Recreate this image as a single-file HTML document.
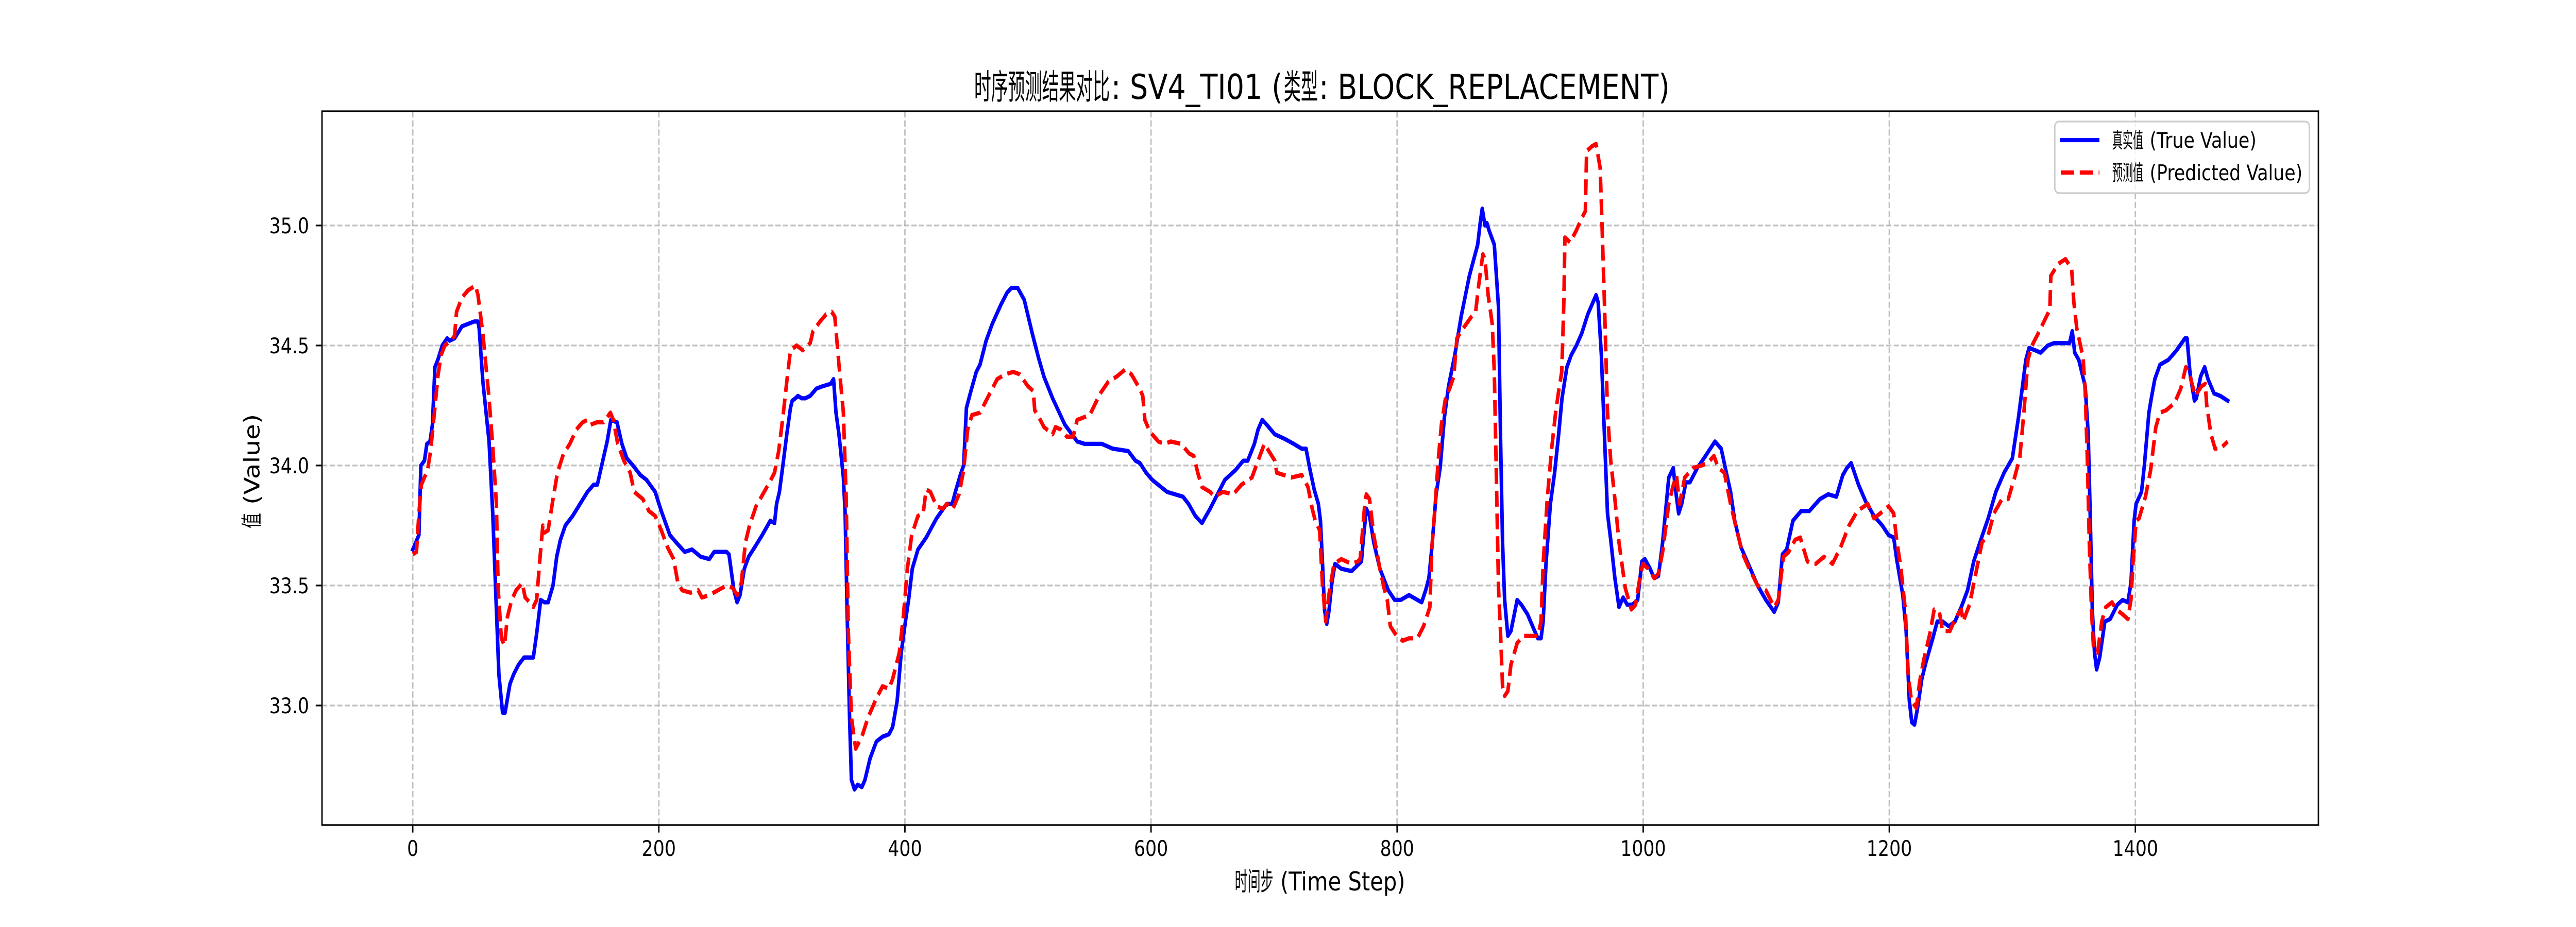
<!DOCTYPE html>
<html><head><meta charset="utf-8"><style>
html,body{margin:0;padding:0;background:#fff;overflow:hidden;width:100vw;height:100vh}
svg{display:block;width:100vw;height:100vh}
text{font-family:"DejaVu Sans","Liberation Sans","Noto Sans CJK SC",sans-serif;fill:#000;white-space:pre}
.cjk{font-family:"Noto Sans CJK SC","WenQuanYi Zen Hei",sans-serif}
</style></head><body>
<svg id="chart" viewBox="0 0 6000 1800" preserveAspectRatio="none" xmlns="http://www.w3.org/2000/svg" xml:space="preserve">
<rect x="0" y="0" width="6000" height="1800" fill="#fff"/>
<g id="grid"></g>
<g id="plot"></g>
<rect x="750" y="216" width="4650" height="1386" fill="none" stroke="#000" stroke-width="3.3"/>
<g id="ticks"></g>
<g>
<text class="cjk" x="2269" y="192" font-size="66.7" textLength="316" lengthAdjust="spacingAndGlyphs">时序预测结果对比</text>
<text x="2588" y="192" font-size="66.7">: SV4_TI01 (</text>
<text class="cjk" x="2990" y="192" font-size="66.7" textLength="80" lengthAdjust="spacingAndGlyphs">类型</text>
<text x="3072" y="192" font-size="66.7">: BLOCK_REPLACEMENT)</text>
</g>
<g>
<text class="cjk" x="2876" y="1729" font-size="50" textLength="90" lengthAdjust="spacingAndGlyphs">时间步</text>
<text x="2982" y="1729" font-size="50">(Time Step)</text>
</g>
<g transform="translate(604,1026) rotate(-90)">
<text class="cjk" x="0" y="0" font-size="50" textLength="30" lengthAdjust="spacingAndGlyphs">值</text>
<text x="46" y="0" font-size="50">(Value)</text>
</g>
<g>
<rect x="4786" y="236" width="593" height="139" rx="10" fill="#fff" fill-opacity="0.8" stroke="#cccccc" stroke-width="3.3"/>
<g>
<line x1="4798" y1="272" x2="4890" y2="272" stroke="#0000ff" stroke-width="8.3"/>
<text class="cjk" x="4920" y="287" font-size="41.7" textLength="72" lengthAdjust="spacingAndGlyphs">真实值</text>
<text x="5007" y="287" font-size="41.7">(True Value)</text>
</g>
<g>
<line x1="4800" y1="335" x2="4890" y2="335" stroke="#ff0000" stroke-width="8.3" stroke-dasharray="30.8 13.3"/>
<text class="cjk" x="4920" y="350" font-size="41.7" textLength="72" lengthAdjust="spacingAndGlyphs">预测值</text>
<text x="5007" y="350" font-size="41.7">(Predicted Value)</text>
</g>
</g>
</svg>
<script>
const xTicks = [0, 200, 400, 600, 800, 1000, 1200, 1400];
const yTicks = [33.0, 33.5, 34.0, 34.5, 35.0];
const yTickLabels = ["33.0", "33.5", "34.0", "34.5", "35.0"];
const trueSeries = [[0,33.65],[5,33.71],[6.6,34.0],[9.5,34.02],[11.5,34.09],[14,34.1],[16,34.17],[18,34.41],[20.4,34.44],[24,34.5],[28,34.53],[30,34.52],[34,34.53],[40,34.58],[45,34.59],[50,34.6],[53,34.6],[54,34.57],[57,34.35],[62,34.1],[65,33.8],[68,33.4],[70,33.13],[73,32.97],[75,32.97],[79,33.09],[82,33.13],[86,33.17],[90.5,33.2],[98,33.2],[100.7,33.3],[104,33.44],[107,33.43],[110,33.43],[114,33.5],[117,33.62],[120,33.69],[124,33.75],[130,33.79],[136,33.84],[142,33.89],[147,33.92],[150,33.92],[154,34.01],[158,34.1],[161,34.19],[166,34.18],[170,34.09],[174,34.03],[179,34.0],[185,33.96],[190,33.94],[197,33.89],[202,33.81],[209,33.71],[214,33.68],[221,33.64],[227,33.65],[234,33.62],[241,33.61],[245,33.64],[250,33.64],[255,33.64],[257,33.63],[261,33.48],[263.6,33.43],[266,33.46],[269.5,33.57],[273,33.62],[278,33.66],[284,33.71],[290.6,33.77],[294,33.76],[295.7,33.84],[298,33.89],[300.8,34.0],[304,34.13],[307,34.24],[308.4,34.27],[311,34.28],[313,34.29],[316,34.28],[319,34.28],[323,34.29],[328,34.32],[333,34.33],[339.6,34.34],[342,34.36],[344,34.22],[346.4,34.13],[350,33.95],[351.4,33.8],[353,33.4],[355,32.95],[356.5,32.69],[359,32.65],[361.6,32.67],[365,32.66],[367.5,32.69],[371.7,32.78],[376.8,32.85],[381.8,32.87],[387,32.88],[390,32.91],[393.7,33.02],[397,33.22],[400.4,33.35],[403,33.44],[406,33.57],[410.6,33.65],[417.3,33.7],[425.7,33.78],[434,33.84],[438.4,33.84],[441,33.89],[445,33.96],[447.7,34.0],[450,34.24],[453.6,34.31],[458,34.39],[461,34.42],[466,34.52],[471,34.59],[478,34.67],[483,34.72],[486.6,34.74],[491.6,34.74],[497,34.69],[503.5,34.55],[508.5,34.45],[513,34.37],[520,34.28],[530,34.17],[540,34.1],[546,34.09],[552,34.09],[560,34.09],[569,34.07],[581.5,34.06],[587.4,34.02],[591,34.01],[596,33.97],[601,33.94],[613,33.89],[626,33.87],[630.5,33.84],[636,33.79],[641.4,33.76],[648,33.82],[655,33.89],[660,33.94],[668.5,33.98],[675,34.02],[678.6,34.02],[684,34.09],[687,34.15],[690.4,34.19],[694,34.17],[700.6,34.13],[709,34.11],[716,34.09],[722.5,34.07],[726,34.07],[729.3,33.98],[732.6,33.9],[736,33.84],[737.7,33.77],[739.4,33.59],[741,33.4],[742.8,33.34],[744.5,33.39],[747,33.51],[749.5,33.59],[754.6,33.57],[763,33.56],[771,33.6],[772.5,33.69],[775,33.82],[777.6,33.79],[781,33.68],[786,33.57],[792.8,33.48],[798,33.44],[803,33.44],[809.7,33.46],[816.5,33.44],[820,33.43],[823.2,33.48],[825.8,33.53],[828.3,33.66],[831.7,33.88],[835,33.99],[838.4,34.2],[841.8,34.33],[846.9,34.46],[852,34.62],[858.7,34.79],[865.5,34.92],[867.5,35.01],[869.2,35.07],[871.4,35.0],[873,35.01],[874.7,34.98],[879,34.92],[882.4,34.66],[884,34.13],[885.7,33.68],[887.4,33.44],[890,33.29],[892.5,33.31],[897.6,33.44],[901,33.42],[906,33.38],[911,33.32],[914.4,33.28],[917,33.28],[918.7,33.35],[921,33.59],[924.6,33.84],[928,33.97],[931.3,34.13],[934,34.28],[938,34.41],[941.5,34.46],[945.7,34.5],[950,34.55],[955,34.63],[961.7,34.71],[963.4,34.68],[966,34.46],[968.5,34.13],[971,33.8],[973.6,33.69],[977,33.53],[980.3,33.41],[983.7,33.45],[987,33.42],[991.3,33.42],[995.5,33.44],[998.9,33.6],[1001.4,33.61],[1005.6,33.57],[1009,33.53],[1012.4,33.54],[1015.8,33.68],[1020.8,33.95],[1024.5,33.99],[1026,33.91],[1028.8,33.8],[1031.3,33.84],[1034.7,33.93],[1038,33.93],[1044,33.99],[1050.7,34.04],[1058.3,34.1],[1063.4,34.07],[1067.6,33.97],[1071,33.89],[1074.4,33.77],[1079.4,33.66],[1086.2,33.58],[1093,33.5],[1099.7,33.44],[1106.5,33.39],[1109.8,33.43],[1113.2,33.63],[1116.6,33.65],[1121.7,33.77],[1125,33.79],[1128.4,33.81],[1135,33.81],[1143.6,33.86],[1150.4,33.88],[1157,33.87],[1162.2,33.96],[1165.6,33.99],[1169,34.01],[1175,33.92],[1180.8,33.85],[1187.5,33.79],[1194.3,33.75],[1199.4,33.71],[1203.6,33.7],[1206,33.61],[1211,33.46],[1213.7,33.31],[1216.3,33.02],[1218.3,32.93],[1220.5,32.92],[1223,32.99],[1226.4,33.11],[1229.8,33.18],[1234.8,33.27],[1239,33.35],[1243.3,33.35],[1248.4,33.33],[1253.4,33.35],[1258.5,33.41],[1263.6,33.48],[1268.6,33.6],[1273.7,33.68],[1280.4,33.78],[1286.6,33.89],[1293.3,33.97],[1300,34.03],[1305,34.2],[1311,34.44],[1313.6,34.49],[1318.6,34.48],[1323,34.47],[1328.8,34.5],[1333.9,34.51],[1344,34.51],[1346.5,34.51],[1348.7,34.56],[1350.7,34.47],[1354,34.44],[1359.2,34.33],[1361.7,34.13],[1363.4,33.77],[1365,33.4],[1366.8,33.22],[1368.5,33.15],[1371,33.2],[1375.2,33.35],[1379.5,33.36],[1385.4,33.42],[1389.6,33.44],[1393.9,33.43],[1396.4,33.51],[1399,33.77],[1400.6,33.84],[1405,33.89],[1407.3,34.0],[1411,34.22],[1413.3,34.29],[1415.8,34.36],[1420,34.42],[1426.8,34.44],[1433.5,34.48],[1440.3,34.53],[1442,34.53],[1444.5,34.38],[1448,34.27],[1449.6,34.28],[1453,34.37],[1456.3,34.41],[1459,34.36],[1464,34.3],[1469,34.29],[1475,34.27]];
const predSeries = [[0,33.63],[3,33.64],[5,33.8],[7,33.92],[9.5,33.95],[12,33.98],[14.5,34.06],[18,34.24],[20.4,34.37],[23,34.46],[26,34.5],[31,34.52],[34,34.54],[35.6,34.64],[40,34.70],[45,34.73],[51,34.75],[53,34.71],[57,34.55],[62,34.28],[65,34.08],[68,33.84],[69.4,33.49],[72,33.28],[74.5,33.25],[77,33.37],[80.4,33.44],[84,33.48],[89,33.51],[91.4,33.45],[95,33.43],[98,33.41],[100.7,33.44],[103,33.59],[105.7,33.75],[107,33.72],[110,33.73],[114,33.86],[117.6,33.97],[122.6,34.05],[127.7,34.09],[133,34.15],[138,34.18],[142,34.19],[144.6,34.17],[149.7,34.18],[155,34.18],[158,34.2],[160.6,34.22],[163,34.19],[166.6,34.09],[171.6,34.02],[176.7,33.97],[180,33.89],[187,33.86],[192,33.81],[197,33.79],[202,33.73],[207,33.66],[212,33.61],[215.5,33.51],[219,33.48],[225.7,33.47],[232,33.48],[235,33.45],[241,33.46],[248,33.48],[255,33.5],[260,33.49],[263.6,33.46],[267,33.51],[270.4,33.68],[273.7,33.75],[279,33.83],[285.6,33.89],[290,33.93],[294,33.97],[297.4,34.06],[300.8,34.2],[304,34.35],[307,34.48],[312,34.5],[317,34.48],[323,34.51],[325.3,34.56],[331,34.6],[336,34.63],[340.5,34.64],[343,34.62],[346.4,34.42],[350,34.22],[352.3,33.86],[354,33.31],[356.5,32.95],[360,32.82],[365,32.87],[370,32.95],[376.8,33.03],[381.8,33.08],[387,33.07],[390,33.11],[395.4,33.22],[398.7,33.37],[402,33.57],[405.5,33.71],[410.6,33.79],[414.8,33.8],[417.3,33.9],[420.7,33.89],[425.7,33.83],[430.8,33.82],[434,33.84],[439,33.82],[444,33.88],[447.7,33.98],[451,34.15],[454.5,34.21],[461,34.22],[468,34.29],[475,34.36],[481.5,34.38],[488,34.39],[493.3,34.38],[500,34.33],[504.3,34.31],[505.5,34.23],[510,34.19],[513,34.16],[520,34.13],[522.4,34.16],[526.6,34.15],[531.6,34.12],[536.7,34.12],[540,34.19],[550.2,34.21],[558.7,34.3],[565.4,34.35],[572,34.37],[579,34.4],[584,34.38],[590.8,34.32],[593.3,34.29],[595,34.19],[599.2,34.14],[606,34.1],[611,34.09],[616,34.1],[624.5,34.09],[631,34.05],[634.7,34.04],[638,33.97],[641.4,33.91],[648,33.89],[651.6,33.87],[658.3,33.89],[666.8,33.88],[673.5,33.92],[682,33.95],[687,34.02],[692.1,34.09],[697,34.05],[700.6,34.02],[702.2,33.97],[714,33.95],[722.5,33.96],[727.6,33.91],[731,33.82],[733.5,33.77],[737,33.73],[739.4,33.5],[742,33.35],[744.5,33.46],[748.7,33.59],[754.6,33.61],[763,33.59],[768,33.6],[770,33.61],[773.4,33.82],[775,33.88],[777.6,33.86],[781,33.71],[786,33.57],[789.4,33.49],[792,33.44],[794.5,33.33],[799.6,33.29],[804.6,33.27],[809.7,33.28],[816.5,33.28],[821.5,33.33],[826.6,33.41],[828.3,33.66],[831,33.84],[833.4,34.02],[836,34.17],[839.3,34.28],[842.7,34.32],[846,34.37],[848.6,34.53],[853.6,34.57],[860.4,34.62],[863.8,34.64],[866.3,34.75],[869.7,34.88],[871.4,34.86],[874,34.71],[877.3,34.59],[879,34.39],[880.7,33.95],[882.4,33.49],[884,33.31],[885.7,33.08],[887.4,33.04],[890,33.06],[892.5,33.17],[897.6,33.26],[902.6,33.29],[909.4,33.29],[914.4,33.29],[917,33.35],[918.7,33.59],[922,33.86],[925.4,34.06],[928.8,34.22],[931.3,34.31],[933.8,34.39],[935.5,34.68],[936.4,34.95],[940.6,34.93],[945.7,34.98],[950,35.03],[953,35.06],[954,35.31],[958.4,35.33],[961.7,35.34],[965,35.24],[966,35.09],[968.5,34.68],[971,34.22],[973.6,34.02],[977,33.86],[980.3,33.68],[985.4,33.49],[990.4,33.4],[993.8,33.42],[997.2,33.53],[999.7,33.59],[1004,33.57],[1009,33.53],[1012.4,33.55],[1015.8,33.64],[1020.8,33.84],[1024,33.91],[1027,33.96],[1029.6,33.84],[1033.8,33.95],[1040.6,33.99],[1047.3,34.0],[1052.4,34.01],[1057.5,34.04],[1061,33.99],[1066,33.97],[1071,33.84],[1076,33.73],[1081,33.63],[1086.2,33.57],[1093,33.5],[1099.7,33.48],[1106.5,33.41],[1109.8,33.44],[1114,33.62],[1118.3,33.64],[1123.4,33.69],[1127.6,33.7],[1133.5,33.6],[1137,33.59],[1140.2,33.59],[1147,33.62],[1153.8,33.59],[1160.5,33.66],[1167.3,33.75],[1174,33.81],[1182.5,33.84],[1187.5,33.78],[1192.6,33.8],[1199.4,33.83],[1203.6,33.8],[1206,33.69],[1209.5,33.57],[1213,33.4],[1215.4,33.13],[1218,33.02],[1222,32.99],[1224.7,33.1],[1228,33.19],[1233,33.3],[1236.5,33.4],[1240.7,33.39],[1243.3,33.31],[1249.2,33.31],[1254.3,33.37],[1258.5,33.4],[1260,33.35],[1265.2,33.42],[1270.3,33.55],[1275.4,33.68],[1280.4,33.71],[1285,33.8],[1291.6,33.86],[1296.7,33.86],[1301.8,33.95],[1306,34.03],[1309.4,34.22],[1312.7,34.44],[1316,34.5],[1322,34.56],[1330.5,34.65],[1331.3,34.79],[1337.2,34.84],[1343.2,34.86],[1348.2,34.82],[1350,34.68],[1352.4,34.57],[1357.5,34.45],[1359.2,34.31],[1361,34.02],[1362.6,33.67],[1364.3,33.4],[1366,33.24],[1369.3,33.22],[1372.7,33.35],[1376,33.41],[1381,33.43],[1384.5,33.4],[1389.6,33.38],[1393.9,33.36],[1396.4,33.44],[1398,33.59],[1400.6,33.77],[1403,33.78],[1408.2,33.87],[1412.4,33.98],[1416.6,34.16],[1420,34.22],[1425,34.23],[1431.8,34.26],[1436.9,34.32],[1441,34.41],[1444.5,34.37],[1448.7,34.29],[1453.7,34.33],[1456.8,34.34],[1458,34.25],[1461.4,34.13],[1464.8,34.07],[1469,34.07],[1475,34.1]];

const AX = {left:750, right:5400, top:216, bottom:1602};
const XMIN = -73.75, XMAX = 1548.75, YMIN = 32.502, YMAX = 35.476;
function xScale(v){ return AX.left + (v - XMIN) / (XMAX - XMIN) * (AX.right - AX.left); }
function yScale(v){ return AX.bottom - (v - YMIN) / (YMAX - YMIN) * (AX.bottom - AX.top); }
const NS = 'http://www.w3.org/2000/svg';
function mk(tag, attrs, parent){
  const el = document.createElementNS(NS, tag);
  for (const k in attrs) el.setAttribute(k, attrs[k]);
  parent.appendChild(el);
  return el;
}
const grid = document.getElementById('grid');
const ticks = document.getElementById('ticks');
const plot = document.getElementById('plot');

xTicks.forEach(function(t){
  const x = xScale(t);
  const g = mk('line', {x1:x, y1:AX.top, x2:x, y2:AX.bottom, stroke:'#b0b0b0', 'stroke-width':3.3, 'stroke-dasharray':'12.3 5.3', 'stroke-opacity':0.8}, grid);
  
  
  const tk = mk('line', {x1:x, y1:AX.bottom, x2:x, y2:AX.bottom + 14.6, stroke:'#000', 'stroke-width':3.3}, ticks);
  
  
  const lb = mk('text', {x:x, y:1662, 'font-size':41.7, 'text-anchor':'middle'}, ticks);
  lb.textContent = String(t);
  
  
});
yTicks.forEach(function(t, i){
  const y = yScale(t);
  const g = mk('line', {x1:AX.left, y1:y, x2:AX.right, y2:y, stroke:'#b0b0b0', 'stroke-width':3.3, 'stroke-dasharray':'12.3 5.3', 'stroke-opacity':0.8}, grid);
  
  
  const tk = mk('line', {x1:AX.left - 14.6, y1:y, x2:AX.left, y2:y, stroke:'#000', 'stroke-width':3.3}, ticks);
  
  
  const lb = mk('text', {x:720, y:y + 15, 'font-size':41.7, 'text-anchor':'end'}, ticks);
  lb.textContent = yTickLabels[i];
  
  
});

function pathFor(series){
  return series.map(function(p, i){ return (i ? 'L' : 'M') + xScale(p[0]).toFixed(1) + ',' + yScale(p[1]).toFixed(1); }).join('');
}
const trueLine = mk('path', {d:pathFor(trueSeries), fill:'none', stroke:'#0000ff', 'stroke-width':8.3, 'stroke-linejoin':'round', 'stroke-linecap':'square'}, plot);


const predLine = mk('path', {d:pathFor(predSeries), fill:'none', stroke:'#ff0000', 'stroke-width':8.3, 'stroke-linejoin':'round', 'stroke-dasharray':'30.8 13.3'}, plot);


</script>
</body></html>
